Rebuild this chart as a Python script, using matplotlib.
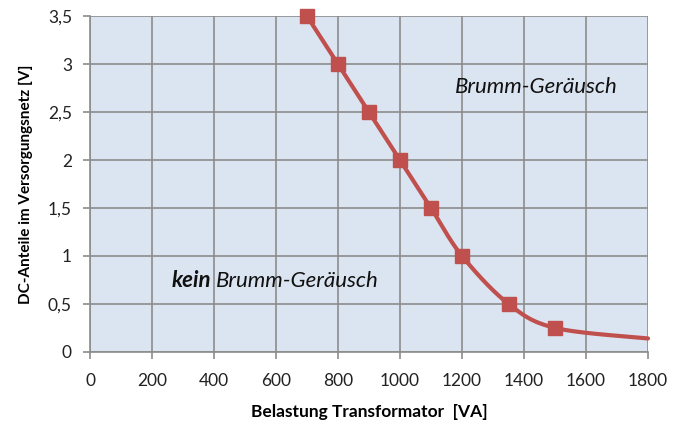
import numpy as np
import matplotlib.pyplot as plt

# data
load_va = [700, 800, 900, 1000, 1100, 1200, 1350, 1500, 1800]
dc_volts = [3.5, 3.0, 2.5, 2.0, 1.5, 1.0, 0.5, 0.25, 0.14]
n_markers = 8  # last point has no marker

x_ticks = [0, 200, 400, 600, 800, 1000, 1200, 1400, 1600, 1800]
y_ticks = [0, 0.5, 1, 1.5, 2, 2.5, 3, 3.5]
y_tick_labels = ["0", "0,5", "1", "1,5", "2", "2,5", "3", "3,5"]


def catmull_rom(xs, ys, steps=30):
    # smooth curve through the points (like Excel's smoothed line)
    p = np.column_stack([xs, ys]).astype(float)
    p = np.vstack([p[0], p, p[-1]])
    out = []
    for i in range(1, len(p) - 2):
        p0, p1, p2, p3 = p[i - 1], p[i], p[i + 1], p[i + 2]
        t = np.linspace(0, 1, steps)[:, None]
        seg = 0.5 * ((2 * p1) + (-p0 + p2) * t
                     + (2 * p0 - 5 * p1 + 4 * p2 - p3) * t ** 2
                     + (-p0 + 3 * p1 - 3 * p2 + p3) * t ** 3)
        out.append(seg)
    out = np.vstack(out)
    return out[:, 0], out[:, 1]


plt.rcParams['font.family'] = ['Lato', 'DejaVu Sans']

fig = plt.figure(figsize=(6.84, 4.26), dpi=100)
ax = fig.add_axes([0.1316, 0.174, 0.8158, 0.788])
ax.set_facecolor('#dbe5f1')

sx, sy = catmull_rom(load_va, dc_volts)
line_color = '#c0504d'
ax.plot(sx, sy, color=line_color, lw=3, solid_capstyle='round', zorder=3,
        clip_on=False)
ax.plot(load_va[:n_markers], dc_volts[:n_markers], 's', color=line_color,
        ms=10, zorder=4, clip_on=False)

ax.set_xlim(0, 1800)
ax.set_ylim(0, 3.5)
ax.set_xticks(x_ticks)
ax.set_yticks(y_ticks)
ax.set_yticklabels(y_tick_labels)
ax.grid(True, color='#8c8c8c', lw=1.2)
ax.set_axisbelow(True)

for side in ['top', 'right']:
    ax.spines[side].set_visible(False)
for side in ['left', 'bottom']:
    ax.spines[side].set_color('#8c8c8c')
    ax.spines[side].set_linewidth(1.2)

ax.tick_params(axis='both', colors='#8c8c8c', length=5, width=1.2,
               labelsize=12.5, labelcolor='#222222')
ax.tick_params(axis='x', pad=10)
ax.tick_params(axis='y', pad=8)

ax.set_xlabel('Belastung Transformator  [VA]', fontsize=12.5, fontweight='bold',
              labelpad=11)
ax.set_ylabel('DC-Anteile im Versorgungsnetz [V]', fontsize=11,
              fontweight='bold', labelpad=11)

ax.text(1440, 2.76, 'Brumm-Geräusch', fontsize=16, style='italic',
        ha='center', va='center', color='#111111')
kein = ax.text(264, 0.68, 'kein', fontsize=16, style='italic',
               fontweight='bold', ha='left', va='baseline', color='#111111')
ax.annotate('Brumm-Geräusch', xy=(1, 0), xycoords=kein, xytext=(3, 0),
            textcoords='offset points', fontsize=16, style='italic',
            ha='left', va='bottom', color='#111111')

fig.savefig('out.png', dpi=100)
